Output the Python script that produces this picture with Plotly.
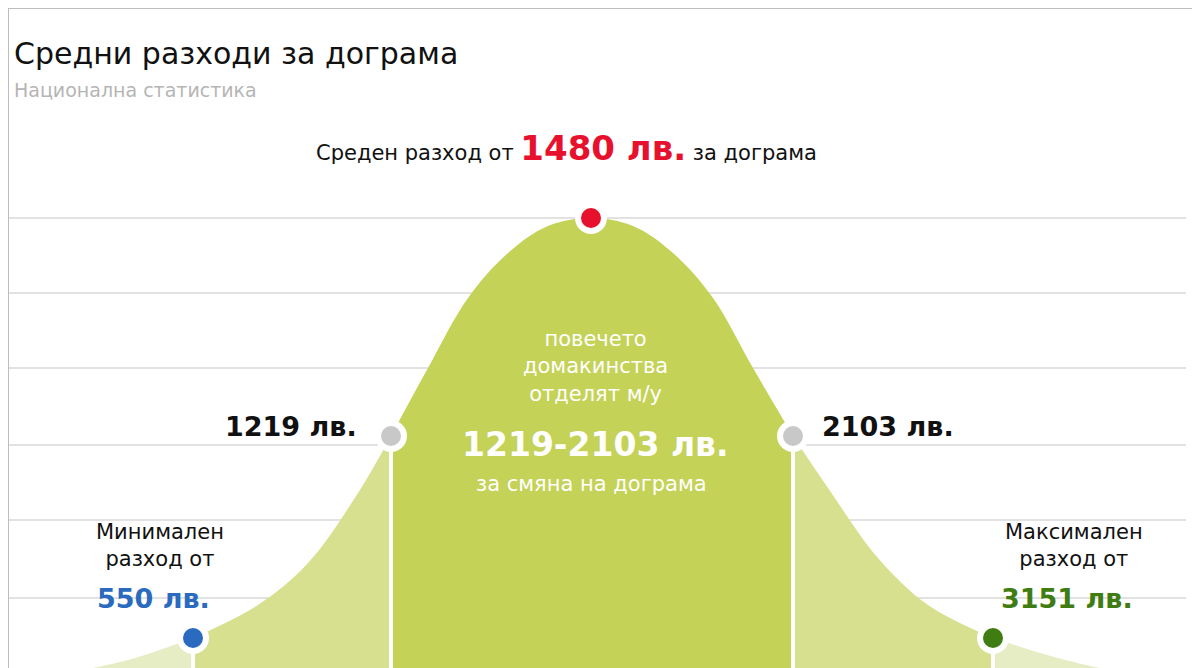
import plotly.graph_objects as go

H = 668
# curve (x px, y px from top)
curve_x = [0, 60, 120, 185, 250, 300, 350, 383, 420, 460, 500, 540, 583, 625, 665, 705, 745, 785, 820, 870, 920, 985, 1050, 1110, 1200]
curve_top = [668, 664, 652, 630, 597, 555, 485, 428, 360, 290, 245, 218, 210, 218, 245, 290, 360, 428, 480, 550, 597, 630, 650, 663, 668]
curve_y = [H - v for v in curve_top]
grid_top = [210, 285, 360, 437, 512, 590]

points_x = [185, 383, 583, 785, 985]
points_color = ["#2a6bbf", "#c8c8c8", "#e8112d", "#c8c8c8", "#3f7d12"]
divider_x = [185, 383, 785, 985]

fig = go.Figure()

def seg(a, b):
    xs = [x for x in curve_x if a <= x <= b]
    ys = [curve_y[curve_x.index(x)] for x in xs]
    return xs, ys

for a, b, col in [(0, 185, "#e6ecc3"), (985, 1200, "#e6ecc3"),
                  (185, 383, "#d6e08e"), (785, 985, "#d6e08e"),
                  (383, 785, "#c4d257")]:
    xs, ys = seg(a, b)
    fig.add_trace(go.Scatter(x=xs, y=ys, fill="tozeroy", fillcolor=col, mode="lines",
                             line=dict(width=0, shape="spline"), hoverinfo="skip"))

for x in divider_x:
    y = curve_y[curve_x.index(x)]
    fig.add_trace(go.Scatter(x=[x, x], y=[0, y], mode="lines", hoverinfo="skip",
                             line=dict(color="white", width=4)))

shapes = []
for g in grid_top:
    shapes.append(dict(type="line", x0=0, x1=1178, y0=H - g, y1=H - g, layer="below",
                       line=dict(color="#e2e2e2", width=2)))
shapes.append(dict(type="rect", xref="paper", yref="paper", x0=0, x1=1, y0=0, y1=1,
                   line=dict(color="#bdbdbd", width=2)))

fig.add_trace(go.Scatter(x=points_x, y=[curve_y[curve_x.index(x)] for x in points_x],
                         mode="markers", hoverinfo="skip",
                         marker=dict(size=26, color=points_color, line=dict(color="white", width=6))))

def txt(x, ytop, t, size, color="#111", align="center", xanchor="center"):
    fig.add_annotation(x=x, y=H - ytop, text=t, showarrow=False, xanchor=xanchor, yanchor="middle",
                       align=align, font=dict(size=size, color=color))

txt(4, 45, "Средни разходи за дограма", 30, xanchor="left")
txt(4, 82, "Национална статистика", 19, "#b5b5b5", xanchor="left")
txt(558, 140, "Среден разход от <b><span style='color:#e8112d;font-size:34px'>1480 лв.</span></b> за дограма", 21)
txt(283, 418, "<b>1219 лв.</b>", 27)
txt(880, 418, "<b>2103 лв.</b>", 27)
txt(587, 358, "повечето<br>домакинства<br>отделят м/у", 21, "white")
txt(587, 436, "<b>1219-2103 лв.</b>", 33, "white")
txt(583, 476, "за смяна на дограма", 21, "white")
txt(152, 537, "Минимален<br>разход от", 21)
txt(145, 590, "<b>550 лв.</b>", 27, "#2a6bbf")
txt(1066, 537, "Максимален<br>разход от", 21)
txt(1059, 590, "<b>3151 лв.</b>", 27, "#3f7d12")

fig.update_layout(width=1200, height=668, margin=dict(l=0, r=0, t=0, b=0),
                  plot_bgcolor="white", paper_bgcolor="white", showlegend=False,
                  font=dict(family="DejaVu Sans"), shapes=shapes,
                  xaxis=dict(range=[0, 1200], visible=False, fixedrange=True),
                  yaxis=dict(range=[0, H], visible=False, fixedrange=True))
fig.write_html("out.html")
